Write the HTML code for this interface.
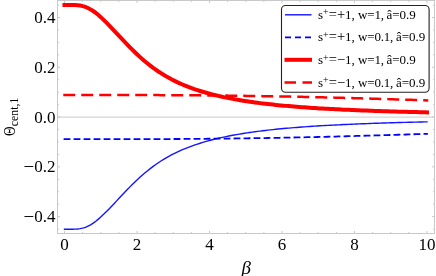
<!DOCTYPE html>
<html><head><meta charset="utf-8"><title>plot</title>
<style>
html,body{margin:0;padding:0;background:#fff;}
body{width:436px;height:276px;overflow:hidden;font-family:"Liberation Serif",serif;}
svg{display:block;will-change:transform;}
text{font-family:"Liberation Serif",serif;fill:#000;filter:grayscale(1);}
</style></head><body>
<svg width="436" height="276" viewBox="0 0 436 276">
<rect width="436" height="276" fill="#fff"/>
<g stroke="#c9c9c9" stroke-width="1" fill="none">
<rect x="57.5" y="0.5" width="377.0" height="233.0"/>
<line x1="57.5" y1="117.1" x2="434.5" y2="117.1"/>
<line x1="64.50" y1="233.5" x2="64.50" y2="231.0"/><line x1="64.50" y1="0.5" x2="64.50" y2="3.0"/><line x1="82.62" y1="233.5" x2="82.62" y2="232.0"/><line x1="82.62" y1="0.5" x2="82.62" y2="2.0"/><line x1="100.75" y1="233.5" x2="100.75" y2="232.0"/><line x1="100.75" y1="0.5" x2="100.75" y2="2.0"/><line x1="118.88" y1="233.5" x2="118.88" y2="232.0"/><line x1="118.88" y1="0.5" x2="118.88" y2="2.0"/><line x1="137.00" y1="233.5" x2="137.00" y2="231.0"/><line x1="137.00" y1="0.5" x2="137.00" y2="3.0"/><line x1="155.12" y1="233.5" x2="155.12" y2="232.0"/><line x1="155.12" y1="0.5" x2="155.12" y2="2.0"/><line x1="173.25" y1="233.5" x2="173.25" y2="232.0"/><line x1="173.25" y1="0.5" x2="173.25" y2="2.0"/><line x1="191.38" y1="233.5" x2="191.38" y2="232.0"/><line x1="191.38" y1="0.5" x2="191.38" y2="2.0"/><line x1="209.50" y1="233.5" x2="209.50" y2="231.0"/><line x1="209.50" y1="0.5" x2="209.50" y2="3.0"/><line x1="227.62" y1="233.5" x2="227.62" y2="232.0"/><line x1="227.62" y1="0.5" x2="227.62" y2="2.0"/><line x1="245.75" y1="233.5" x2="245.75" y2="232.0"/><line x1="245.75" y1="0.5" x2="245.75" y2="2.0"/><line x1="263.88" y1="233.5" x2="263.88" y2="232.0"/><line x1="263.88" y1="0.5" x2="263.88" y2="2.0"/><line x1="282.00" y1="233.5" x2="282.00" y2="231.0"/><line x1="282.00" y1="0.5" x2="282.00" y2="3.0"/><line x1="300.12" y1="233.5" x2="300.12" y2="232.0"/><line x1="300.12" y1="0.5" x2="300.12" y2="2.0"/><line x1="318.25" y1="233.5" x2="318.25" y2="232.0"/><line x1="318.25" y1="0.5" x2="318.25" y2="2.0"/><line x1="336.38" y1="233.5" x2="336.38" y2="232.0"/><line x1="336.38" y1="0.5" x2="336.38" y2="2.0"/><line x1="354.50" y1="233.5" x2="354.50" y2="231.0"/><line x1="354.50" y1="0.5" x2="354.50" y2="3.0"/><line x1="372.62" y1="233.5" x2="372.62" y2="232.0"/><line x1="372.62" y1="0.5" x2="372.62" y2="2.0"/><line x1="390.75" y1="233.5" x2="390.75" y2="232.0"/><line x1="390.75" y1="0.5" x2="390.75" y2="2.0"/><line x1="408.88" y1="233.5" x2="408.88" y2="232.0"/><line x1="408.88" y1="0.5" x2="408.88" y2="2.0"/><line x1="427.00" y1="233.5" x2="427.00" y2="231.0"/><line x1="427.00" y1="0.5" x2="427.00" y2="3.0"/><line x1="57.5" y1="229.11" x2="59.0" y2="229.11"/><line x1="434.5" y1="229.11" x2="433.0" y2="229.11"/><line x1="57.5" y1="216.66" x2="60.0" y2="216.66"/><line x1="434.5" y1="216.66" x2="432.0" y2="216.66"/><line x1="57.5" y1="204.22" x2="59.0" y2="204.22"/><line x1="434.5" y1="204.22" x2="433.0" y2="204.22"/><line x1="57.5" y1="191.77" x2="59.0" y2="191.77"/><line x1="434.5" y1="191.77" x2="433.0" y2="191.77"/><line x1="57.5" y1="179.32" x2="59.0" y2="179.32"/><line x1="434.5" y1="179.32" x2="433.0" y2="179.32"/><line x1="57.5" y1="166.88" x2="60.0" y2="166.88"/><line x1="434.5" y1="166.88" x2="432.0" y2="166.88"/><line x1="57.5" y1="154.44" x2="59.0" y2="154.44"/><line x1="434.5" y1="154.44" x2="433.0" y2="154.44"/><line x1="57.5" y1="141.99" x2="59.0" y2="141.99"/><line x1="434.5" y1="141.99" x2="433.0" y2="141.99"/><line x1="57.5" y1="129.54" x2="59.0" y2="129.54"/><line x1="434.5" y1="129.54" x2="433.0" y2="129.54"/><line x1="57.5" y1="117.10" x2="60.0" y2="117.10"/><line x1="434.5" y1="117.10" x2="432.0" y2="117.10"/><line x1="57.5" y1="104.66" x2="59.0" y2="104.66"/><line x1="434.5" y1="104.66" x2="433.0" y2="104.66"/><line x1="57.5" y1="92.21" x2="59.0" y2="92.21"/><line x1="434.5" y1="92.21" x2="433.0" y2="92.21"/><line x1="57.5" y1="79.76" x2="59.0" y2="79.76"/><line x1="434.5" y1="79.76" x2="433.0" y2="79.76"/><line x1="57.5" y1="67.32" x2="60.0" y2="67.32"/><line x1="434.5" y1="67.32" x2="432.0" y2="67.32"/><line x1="57.5" y1="54.87" x2="59.0" y2="54.87"/><line x1="434.5" y1="54.87" x2="433.0" y2="54.87"/><line x1="57.5" y1="42.43" x2="59.0" y2="42.43"/><line x1="434.5" y1="42.43" x2="433.0" y2="42.43"/><line x1="57.5" y1="29.98" x2="59.0" y2="29.98"/><line x1="434.5" y1="29.98" x2="433.0" y2="29.98"/><line x1="57.5" y1="17.54" x2="60.0" y2="17.54"/><line x1="434.5" y1="17.54" x2="432.0" y2="17.54"/><line x1="57.5" y1="5.09" x2="59.0" y2="5.09"/><line x1="434.5" y1="5.09" x2="433.0" y2="5.09"/>
</g>
<g fill="none" stroke-linecap="square">
<path d="M64.50,229.23 L67.11,229.23 L69.72,229.23 L72.32,229.20 L74.93,229.13 L77.54,228.96 L80.15,228.64 L82.76,228.10 L85.36,227.30 L87.97,226.22 L90.58,224.84 L93.19,223.18 L95.79,221.26 L98.40,219.13 L101.01,216.81 L103.62,214.36 L106.23,211.79 L108.83,209.14 L111.44,206.42 L114.05,203.66 L116.66,200.87 L119.27,198.08 L121.87,195.29 L124.48,192.53 L127.09,189.80 L129.70,187.13 L132.31,184.51 L134.91,181.96 L137.52,179.48 L140.13,177.09 L142.74,174.78 L145.35,172.55 L147.95,170.42 L150.56,168.37 L153.17,166.40 L155.78,164.53 L158.38,162.73 L160.99,161.02 L163.60,159.39 L166.21,157.84 L168.82,156.35 L171.42,154.94 L174.03,153.60 L176.64,152.33 L179.25,151.11 L181.86,149.95 L184.46,148.85 L187.07,147.80 L189.68,146.80 L192.29,145.84 L194.90,144.93 L197.50,144.05 L200.11,143.22 L202.72,142.42 L205.33,141.66 L207.94,140.92 L210.54,140.22 L213.15,139.55 L215.76,138.90 L218.37,138.28 L220.97,137.69 L223.58,137.12 L226.19,136.57 L228.80,136.04 L231.41,135.54 L234.01,135.05 L236.62,134.58 L239.23,134.13 L241.84,133.70 L244.45,133.28 L247.05,132.88 L249.66,132.50 L252.27,132.12 L254.88,131.77 L257.49,131.42 L260.09,131.09 L262.70,130.77 L265.31,130.45 L267.92,130.15 L270.53,129.87 L273.13,129.59 L275.74,129.31 L278.35,129.05 L280.96,128.80 L283.56,128.56 L286.17,128.32 L288.78,128.09 L291.39,127.87 L294.00,127.65 L296.60,127.44 L299.21,127.24 L301.82,127.04 L304.43,126.85 L307.04,126.67 L309.64,126.49 L312.25,126.32 L314.86,126.15 L317.47,125.98 L320.08,125.82 L322.68,125.67 L325.29,125.52 L327.90,125.37 L330.51,125.23 L333.12,125.09 L335.72,124.96 L338.33,124.83 L340.94,124.70 L343.55,124.57 L346.15,124.45 L348.76,124.33 L351.37,124.22 L353.98,124.11 L356.59,124.00 L359.19,123.89 L361.80,123.79 L364.41,123.69 L367.02,123.59 L369.63,123.49 L372.23,123.40 L374.84,123.31 L377.45,123.22 L380.06,123.13 L382.67,123.04 L385.27,122.96 L387.88,122.88 L390.49,122.80 L393.10,122.72 L395.71,122.64 L398.31,122.57 L400.92,122.50 L403.53,122.42 L406.14,122.35 L408.74,122.29 L411.35,122.22 L413.96,122.15 L416.57,122.09 L419.18,122.03 L421.78,121.97 L424.39,121.90 L427.00,121.85" stroke="#1414ff" stroke-width="1.4"/>
<path d="M64.50,139.20 L67.11,139.20 L69.72,139.20 L72.32,139.20 L74.93,139.20 L77.54,139.20 L80.15,139.20 L82.76,139.20 L85.36,139.20 L87.97,139.20 L90.58,139.20 L93.19,139.20 L95.79,139.20 L98.40,139.20 L101.01,139.20 L103.62,139.19 L106.23,139.19 L108.83,139.19 L111.44,139.19 L114.05,139.18 L116.66,139.18 L119.27,139.18 L121.87,139.17 L124.48,139.17 L127.09,139.17 L129.70,139.16 L132.31,139.16 L134.91,139.15 L137.52,139.15 L140.13,139.14 L142.74,139.13 L145.35,139.12 L147.95,139.12 L150.56,139.11 L153.17,139.10 L155.78,139.09 L158.38,139.08 L160.99,139.07 L163.60,139.06 L166.21,139.05 L168.82,139.03 L171.42,139.02 L174.03,139.01 L176.64,138.99 L179.25,138.98 L181.86,138.96 L184.46,138.95 L187.07,138.93 L189.68,138.91 L192.29,138.89 L194.90,138.87 L197.50,138.85 L200.11,138.83 L202.72,138.81 L205.33,138.79 L207.94,138.76 L210.54,138.74 L213.15,138.72 L215.76,138.69 L218.37,138.66 L220.97,138.64 L223.58,138.61 L226.19,138.58 L228.80,138.55 L231.41,138.52 L234.01,138.48 L236.62,138.45 L239.23,138.42 L241.84,138.38 L244.45,138.35 L247.05,138.31 L249.66,138.27 L252.27,138.24 L254.88,138.20 L257.49,138.16 L260.09,138.12 L262.70,138.07 L265.31,138.03 L267.92,137.99 L270.53,137.94 L273.13,137.90 L275.74,137.85 L278.35,137.80 L280.96,137.75 L283.56,137.70 L286.17,137.65 L288.78,137.60 L291.39,137.55 L294.00,137.50 L296.60,137.44 L299.21,137.39 L301.82,137.33 L304.43,137.28 L307.04,137.22 L309.64,137.16 L312.25,137.10 L314.86,137.04 L317.47,136.98 L320.08,136.92 L322.68,136.85 L325.29,136.79 L327.90,136.73 L330.51,136.66 L333.12,136.60 L335.72,136.53 L338.33,136.46 L340.94,136.39 L343.55,136.33 L346.15,136.26 L348.76,136.19 L351.37,136.12 L353.98,136.04 L356.59,135.97 L359.19,135.90 L361.80,135.83 L364.41,135.75 L367.02,135.68 L369.63,135.60 L372.23,135.53 L374.84,135.45 L377.45,135.37 L380.06,135.29 L382.67,135.22 L385.27,135.14 L387.88,135.06 L390.49,134.98 L393.10,134.90 L395.71,134.82 L398.31,134.74 L400.92,134.66 L403.53,134.58 L406.14,134.50 L408.74,134.41 L411.35,134.33 L413.96,134.25 L416.57,134.17 L419.18,134.08 L421.78,134.00 L424.39,133.92 L427.00,133.83" stroke="#0000ff" stroke-width="1.8" stroke-dasharray="5 5"/>
<path d="M64.50,4.97 L67.11,4.97 L69.72,4.97 L72.32,5.00 L74.93,5.07 L77.54,5.24 L80.15,5.56 L82.76,6.10 L85.36,6.90 L87.97,7.98 L90.58,9.36 L93.19,11.02 L95.79,12.94 L98.40,15.07 L101.01,17.39 L103.62,19.84 L106.23,22.41 L108.83,25.06 L111.44,27.78 L114.05,30.54 L116.66,33.33 L119.27,36.12 L121.87,38.91 L124.48,41.67 L127.09,44.40 L129.70,47.07 L132.31,49.69 L134.91,52.24 L137.52,54.72 L140.13,57.11 L142.74,59.42 L145.35,61.65 L147.95,63.78 L150.56,65.83 L153.17,67.80 L155.78,69.67 L158.38,71.47 L160.99,73.18 L163.60,74.81 L166.21,76.36 L168.82,77.85 L171.42,79.26 L174.03,80.60 L176.64,81.87 L179.25,83.09 L181.86,84.25 L184.46,85.35 L187.07,86.40 L189.68,87.40 L192.29,88.36 L194.90,89.27 L197.50,90.15 L200.11,90.98 L202.72,91.78 L205.33,92.54 L207.94,93.28 L210.54,93.98 L213.15,94.65 L215.76,95.30 L218.37,95.92 L220.97,96.51 L223.58,97.08 L226.19,97.63 L228.80,98.16 L231.41,98.66 L234.01,99.15 L236.62,99.62 L239.23,100.07 L241.84,100.50 L244.45,100.92 L247.05,101.32 L249.66,101.70 L252.27,102.08 L254.88,102.43 L257.49,102.78 L260.09,103.11 L262.70,103.43 L265.31,103.75 L267.92,104.05 L270.53,104.33 L273.13,104.61 L275.74,104.89 L278.35,105.15 L280.96,105.40 L283.56,105.64 L286.17,105.88 L288.78,106.11 L291.39,106.33 L294.00,106.55 L296.60,106.76 L299.21,106.96 L301.82,107.16 L304.43,107.35 L307.04,107.53 L309.64,107.71 L312.25,107.88 L314.86,108.05 L317.47,108.22 L320.08,108.38 L322.68,108.53 L325.29,108.68 L327.90,108.83 L330.51,108.97 L333.12,109.11 L335.72,109.24 L338.33,109.37 L340.94,109.50 L343.55,109.63 L346.15,109.75 L348.76,109.87 L351.37,109.98 L353.98,110.09 L356.59,110.20 L359.19,110.31 L361.80,110.41 L364.41,110.51 L367.02,110.61 L369.63,110.71 L372.23,110.80 L374.84,110.89 L377.45,110.98 L380.06,111.07 L382.67,111.16 L385.27,111.24 L387.88,111.32 L390.49,111.40 L393.10,111.48 L395.71,111.56 L398.31,111.63 L400.92,111.70 L403.53,111.78 L406.14,111.85 L408.74,111.91 L411.35,111.98 L413.96,112.05 L416.57,112.11 L419.18,112.17 L421.78,112.23 L424.39,112.30 L427.00,112.35" stroke="#ff0000" stroke-width="4"/>
<path d="M64.50,95.00 L67.11,95.00 L69.72,95.00 L72.32,95.00 L74.93,95.00 L77.54,95.00 L80.15,95.00 L82.76,95.00 L85.36,95.00 L87.97,95.00 L90.58,95.00 L93.19,95.00 L95.79,95.00 L98.40,95.00 L101.01,95.00 L103.62,95.01 L106.23,95.01 L108.83,95.01 L111.44,95.01 L114.05,95.02 L116.66,95.02 L119.27,95.02 L121.87,95.03 L124.48,95.03 L127.09,95.03 L129.70,95.04 L132.31,95.04 L134.91,95.05 L137.52,95.05 L140.13,95.06 L142.74,95.07 L145.35,95.08 L147.95,95.08 L150.56,95.09 L153.17,95.10 L155.78,95.11 L158.38,95.12 L160.99,95.13 L163.60,95.14 L166.21,95.15 L168.82,95.17 L171.42,95.18 L174.03,95.19 L176.64,95.21 L179.25,95.22 L181.86,95.24 L184.46,95.25 L187.07,95.27 L189.68,95.29 L192.29,95.31 L194.90,95.33 L197.50,95.35 L200.11,95.37 L202.72,95.39 L205.33,95.41 L207.94,95.44 L210.54,95.46 L213.15,95.48 L215.76,95.51 L218.37,95.54 L220.97,95.56 L223.58,95.59 L226.19,95.62 L228.80,95.65 L231.41,95.68 L234.01,95.72 L236.62,95.75 L239.23,95.78 L241.84,95.82 L244.45,95.85 L247.05,95.89 L249.66,95.93 L252.27,95.96 L254.88,96.00 L257.49,96.04 L260.09,96.08 L262.70,96.13 L265.31,96.17 L267.92,96.21 L270.53,96.26 L273.13,96.30 L275.74,96.35 L278.35,96.40 L280.96,96.45 L283.56,96.50 L286.17,96.55 L288.78,96.60 L291.39,96.65 L294.00,96.70 L296.60,96.76 L299.21,96.81 L301.82,96.87 L304.43,96.92 L307.04,96.98 L309.64,97.04 L312.25,97.10 L314.86,97.16 L317.47,97.22 L320.08,97.28 L322.68,97.35 L325.29,97.41 L327.90,97.47 L330.51,97.54 L333.12,97.60 L335.72,97.67 L338.33,97.74 L340.94,97.81 L343.55,97.87 L346.15,97.94 L348.76,98.01 L351.37,98.08 L353.98,98.16 L356.59,98.23 L359.19,98.30 L361.80,98.37 L364.41,98.45 L367.02,98.52 L369.63,98.60 L372.23,98.67 L374.84,98.75 L377.45,98.83 L380.06,98.91 L382.67,98.98 L385.27,99.06 L387.88,99.14 L390.49,99.22 L393.10,99.30 L395.71,99.38 L398.31,99.46 L400.92,99.54 L403.53,99.62 L406.14,99.70 L408.74,99.79 L411.35,99.87 L413.96,99.95 L416.57,100.03 L419.18,100.12 L421.78,100.20 L424.39,100.28 L427.00,100.37" stroke="#ff0000" stroke-width="2.5" stroke-dasharray="9.5 8.5"/>
</g>
<g font-size="17"><text x="64.50" y="250" text-anchor="middle">0</text><text x="137.00" y="250" text-anchor="middle">2</text><text x="209.50" y="250" text-anchor="middle">4</text><text x="282.00" y="250" text-anchor="middle">6</text><text x="354.50" y="250" text-anchor="middle">8</text><text x="427.00" y="250" text-anchor="middle">10</text><text x="55.5" y="23.04" text-anchor="end">0.4</text><text x="55.5" y="72.82" text-anchor="end">0.2</text><text x="55.5" y="122.60" text-anchor="end">0.0</text><text x="55.5" y="172.38" text-anchor="end"><tspan font-size='19' dy='0.5'>−</tspan><tspan dy='-0.5'>0.2</tspan></text><text x="55.5" y="222.16" text-anchor="end"><tspan font-size='19' dy='0.5'>−</tspan><tspan dy='-0.5'>0.4</tspan></text></g>
<text x="241.4" y="274.3" font-size="19" font-style="italic">β</text>
<g transform="translate(15,136) rotate(-90)">
<text x="0" y="0" font-size="15.8" transform="scale(0.84,1)">Θ</text>
<text x="9.8" y="2.9" font-size="11.8">cent,1</text>
</g>
<rect x="281.5" y="5.5" width="147.6" height="86.7" rx="4" ry="4" fill="#fff" stroke="#222" stroke-width="1.1"/>
<g fill="none">
<line x1="285" y1="14.8" x2="311.5" y2="14.8" stroke="#1414ff" stroke-width="1.4"/>
<line x1="285" y1="37.4" x2="311.5" y2="37.4" stroke="#0000ff" stroke-width="1.8" stroke-dasharray="6 4"/>
<line x1="284.5" y1="59.8" x2="312" y2="59.8" stroke="#ff0000" stroke-width="4"/>
<line x1="284.5" y1="82.6" x2="312" y2="82.6" stroke="#ff0000" stroke-width="2.5" stroke-dasharray="11.5 6.5"/>
</g>
<g font-size="13"><text x="318" y="18.80">s<tspan dy='-3.5' font-size='10'>+</tspan><tspan dy='3.5' font-size='14.5'>=+</tspan>1,<tspan x='358' letter-spacing='-0.17'>w=1,</tspan><tspan x='386.4'>â=0.9</tspan></text><text x="318" y="41.40">s<tspan dy='-3.5' font-size='10'>+</tspan><tspan dy='3.5' font-size='14.5'>=+</tspan>1,<tspan x='358' letter-spacing='-0.17'>w=0.1,</tspan><tspan x='395.9'>â=0.9</tspan></text><text x="318" y="64.00">s<tspan dy='-3.5' font-size='10'>+</tspan><tspan dy='3.5' font-size='14.5'>=−</tspan>1,<tspan x='358' letter-spacing='-0.17'>w=1,</tspan><tspan x='386.4'>â=0.9</tspan></text><text x="318" y="86.60">s<tspan dy='-3.5' font-size='10'>+</tspan><tspan dy='3.5' font-size='14.5'>=−</tspan>1,<tspan x='358' letter-spacing='-0.17'>w=0.1,</tspan><tspan x='395.9'>â=0.9</tspan></text></g>
</svg>
</body></html>
